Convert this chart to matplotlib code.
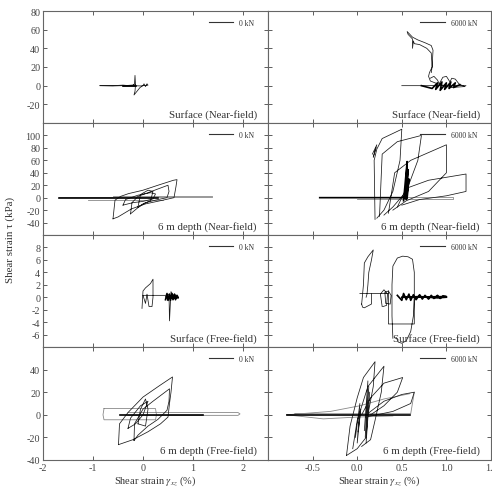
import numpy as np
import matplotlib
matplotlib.use("Agg")
import matplotlib.pyplot as plt

plt.rcParams['font.family'] = ['Liberation Serif', 'DejaVu Serif']
plt.rcParams['mathtext.fontset'] = 'stix'

nan = np.nan

# ---- row 1 : Surface (Near-field) ----
sn0_x = [-0.86, -0.6, -0.4, -0.15, -0.4, -0.15, -0.3, -0.2, -0.17, -0.16, -0.15, -0.16, -0.18, -0.12,
         -0.06, 0.0, 0.02, 0.05, 0.08, 0.1, 0.04, -0.05, -0.3, -0.6, -0.86]
sn0_y = [0, 0, 0.6, -0.6, -0.6, 0.6, 0.3, 0.5, 2, 11, 1, -6, -10, -6,
         -2, 0, 2, -1, 2, 0.5, 0.3, -0.3, 0.2, -0.3, 0]
sn0_bold_x = [-0.4, -0.15]
sn0_bold_y = [0, 0]

sn6_x = [0.50, 0.80, 1.0, 1.22, 1.2, 1.05, 0.9, 0.82, 0.80, 0.81, 0.84, 0.85, 0.83, 0.76, 0.68, 0.62,
         0.58, 0.56, 0.57, 0.60, 0.62, 0.62, 0.63, 0.64, 0.70, 0.78, 0.83, 0.84, 0.83, nan,
         0.82, 0.86, 0.90, 0.92, 0.96, 1.0, 1.04, 1.06, 1.10, 1.14, 1.18, 1.2]
sn6_y = [0, 0, 0.5, 0, -1, -2, 2, 5, 10, 14, 20, 38, 43, 46, 49, 52,
         56, 58, 55, 52, 50, 40, 48, 45, 44, 40, 35, 20, 14, nan,
         8, 10, 6, 2, 9, 10, 4, 8, 7, 2, 0, -1]
sn6_bold_x = [0.72, 0.84, 0.9, 0.88, 0.95, 0.93, 1.0, 0.98, 1.05, 1.03, 1.1, 1.08, 1.15]
sn6_bold_y = [0, -3, 3, -4, 4, -5, 3, -4, 4, -3, 3, -2, 1]

# ---- row 2 : 6 m depth (Near-field) ----
dn0_line_x = [-1.68, 1.38, 1.38, -0.6, nan, -1.1, 0.4]
dn0_line_y = [0.5, 0.5, 3, 3, nan, -3, -3]
dn0_bold_x = [-1.68, 0.3]
dn0_bold_y = [0, 0]
dn0_x = [-0.6, -0.56, -0.45, -0.29, 0.0, 0.3, 0.61, 0.68, 0.66, 0.62, 0.4, 0.05, -0.23, -0.5, -0.6, nan,
         -0.25, -0.22, -0.1, 0.1, 0.3, 0.5, 0.52, 0.48, 0.3, 0.05, -0.1, -0.25, nan,
         -0.4, -0.35, -0.1, 0.15, 0.25, 0.2, 0.0, -0.2, -0.4, nan,
         -0.1, -0.05, 0.1, 0.2, 0.15, 0.0, -0.1]
dn0_y = [-34, -4, 2, 6.5, 12, 20, 28, 29, 18, 0, -4, -10, -18, -31, -34, nan,
         -26, -8, 2, 8, 14, 20, 10, 0, -3, -8, -16, -26, nan,
         -12, -3, 4, 8, 6, -2, -6, -8, -12, nan,
         -15, 5, 12, 10, -5, -10, -15]

dn6_line_x = [-0.3, 1.07, 1.07, 0.0]
dn6_line_y = [1.5, 1.5, -2, -2]
dn6_bold_x = [-0.42, 0.55, nan, 0.52, 0.56, 0.54, 0.57, 0.55, 0.58, 0.56]
dn6_bold_y = [0, 0, nan, -5, 58, 0, 45, -3, 30, 0]
dn6_x = [0.20, 0.19, 0.22, 0.28, 0.50, 0.48, 0.40, 0.30, 0.22, nan,
         0.25, 0.28, 0.45, 0.72, 0.68, 0.55, 0.40, 0.30, nan,
         0.35, 0.42, 0.60, 1.00, 1.00, 0.80, 0.55, 0.40, nan,
         0.45, 0.55, 0.80, 1.22, 1.22, 1.0, 0.7, 0.5, nan,
         0.17, 0.22, 0.18, 0.21]
dn6_y = [-35, 60, 78, 95, 110, 60, 10, -20, -33, nan,
         -30, 70, 90, 100, 60, 10, -15, -28, nan,
         -25, 40, 60, 85, 40, 10, -5, -20, nan,
         -15, 15, 28, 38, 10, 3, -3, -12, nan,
         70, 85, 65, 80]

# ---- row 3 : Surface (Free-field) ----
sf0_x = [-0.02, 0.0, 0.05, 0.15, 0.2, 0.2, 0.18, 0.12, 0.08, 0.05, 0.0, 0.45, 0.52, 0.53, 0.55, 0.56,
         0.6, 0.65, 0.7, 0.6, 0.55, 0.5, 0.45]
sf0_y = [-1.8, 1.0, 1.5, 2.2, 2.9, 0.0, -1.5, -1.5, 0.5, -1.0, 0.3, 0.3, 0.5, -3.8, -0.5, 0.9,
         0.2, 0.4, 0.0, -0.3, 0.3, -0.5, 0.1]
sf0_bold_x = [0.45, 0.48, 0.5, 0.53, 0.55, 0.58, 0.6, 0.63, 0.65, 0.68, 0.7, 0.5, 0.6, 0.7]
sf0_bold_y = [-0.4, 0.6, -0.5, 0.5, -0.5, 0.6, -0.4, 0.5, -0.4, 0.3, 0.0, -0.2, 0.3, -0.1]

sf6_x = [0.05, 0.07, 0.08, 0.12, 0.18, 0.16, 0.13, 0.12, 0.11, 0.10, nan,
         0.05, 0.06, 0.08, 0.12, 0.16, 0.16, nan,
         0.03, 0.35, nan,
         0.35, 0.35, 0.64, 0.64, nan,
         0.40, 0.39, 0.39, 0.40, 0.45, 0.51, 0.57, 0.62, 0.64, 0.64, 0.63, 0.60, 0.55, 0.50, 0.46, 0.44, nan,
         0.28, 0.26, 0.3, 0.34, 0.33, 0.29, nan,
         0.32, 0.31, 0.35, 0.38, 0.37, 0.33]
sf6_y = [-1.1, 2, 5.5, 6.5, 7.6, 6, 4, 2, 0.5, 0, nan,
         -1.1, -1.6, -1.7, -1.4, -1.1, 0.5, nan,
         0.6, 0.6, nan,
         1.0, -4.3, -4.3, 0, nan,
         -6.6, -3, 2, 5, 6.3, 6.6, 6.5, 6.1, 4, 0, -3, -5.5, -7, -7.4, -7.2, -6.5, nan,
         -1.5, 0.5, 1.2, 0.5, -1.3, -1.5, nan,
         -1.0, 0.8, 1.0, 0.3, -1.1, -1.0]
sf6_bold_x = [0.45, 0.5, 0.52, 0.55, 0.58, 0.6, 0.63, 0.66, 0.7, 0.73, 0.76, 0.8, 0.83, 0.86, 0.9, 0.93,
              0.96, 1.0, 0.5, 0.7, 0.9, 1.0]
sf6_bold_y = [0.3, -0.5, 0.6, -0.4, 0.5, -0.5, 0.4, -0.4, 0.4, -0.3, 0.3, -0.3, 0.3, -0.2, 0.3, -0.2,
              0.2, 0.1, 0.0, 0.1, -0.1, 0.0]

# ---- row 4 : 6 m depth (Free-field) ----
df0_line_x = [-0.78, 0.25, 0.27, 0.25, -0.78, -0.8, -0.78, nan, -0.3, 1.9, 1.94, 1.9, -0.3]
df0_line_y = [5.5, 5.5, 0, -4.4, -4.4, 0, 5.5, nan, 2.0, 2.0, 0.8, -0.5, -0.5]
df0_bold_x = [-0.47, 1.2]
df0_bold_y = [0, 0]
df0_x = [-0.49, -0.47, -0.3, 0.0, 0.33, 0.59, 0.56, 0.53, 0.5, 0.35, 0.1, -0.2, -0.49, nan,
         -0.18, -0.17, 0.0, 0.2, 0.53, 0.52, 0.48, 0.3, 0.1, -0.1, -0.18, nan,
         -0.3, -0.25, -0.05, 0.1, 0.0, -0.15, -0.3, nan,
         -0.1, -0.05, 0.05, 0.1, 0.05, -0.1]
df0_y = [-26.4, -8, 2, 15.7, 25.8, 33.5, 20, 10, -2, -8, -15, -22, -26.4, nan,
         -22.8, -8, 5, 12, 23, 12, 4, -4, -10, -18, -22.8, nan,
         -12, -3, 8, 12, 0, -8, -12, nan,
         -8, 5, 14, 5, -10, -8]

df6_line_x = [-0.79, -0.3, 0.03, 0.3, 0.59, nan, -0.79, -0.38, 0.0, 0.4, nan, -0.7, 0.6, 0.64]
df6_line_y = [0, 3, 8, 14, 18.7, nan, 0, -3.6, -2, -1, nan, 1, 1, 20]
df6_bold_x = [-0.79, 0.59]
df6_bold_y = [0, 0]
df6_x = [-0.12, -0.08, 0.0, 0.07, 0.20, 0.18, 0.12, 0.10, 0.0, -0.12, nan,
         -0.05, 0.0, 0.12, 0.30, 0.27, 0.20, 0.15, 0.05, nan,
         0.05, 0.15, 0.30, 0.51, 0.45, 0.30, 0.15, nan,
         0.10, 0.30, 0.50, 0.64, 0.60, 0.40, 0.10, nan,
         0.08, 0.12, 0.09, 0.13, 0.10, 0.14, nan,
         -0.02, 0.03, 0.0, 0.04, 0.01]
df6_y = [-36, -10, 15, 33, 47, 25, 0, -20, -30, -36, nan,
         -30, -5, 25, 43, 20, -5, -22, -28, nan,
         0, 15, 28, 33, 20, 8, 0, nan,
         0, 12, 18, 20, 10, 3, -2, nan,
         -14, 30, -20, 25, -25, 20, nan,
         -20, 10, -25, 5, -15]

row_names = ['Surface (Near-field)', '6 m depth (Near-field)',
             'Surface (Free-field)', '6 m depth (Free-field)']
loads = ['0 kN', '6000 kN']
ylims = [(-40, 80), (-60, 120), (-8, 10), (-40, 60)]
yticks = [np.arange(-20, 81, 20), np.arange(-40, 101, 20),
          np.arange(-6, 9, 2), np.arange(-40, 41, 20)]

# (gray line, thin curves, bold part) for every panel
panels = [
    [([], [], sn0_x, sn0_y, sn0_bold_x, sn0_bold_y),
     ([], [], sn6_x, sn6_y, sn6_bold_x, sn6_bold_y)],
    [(dn0_line_x, dn0_line_y, dn0_x, dn0_y, dn0_bold_x, dn0_bold_y),
     (dn6_line_x, dn6_line_y, dn6_x, dn6_y, dn6_bold_x, dn6_bold_y)],
    [([], [], sf0_x, sf0_y, sf0_bold_x, sf0_bold_y),
     ([], [], sf6_x, sf6_y, sf6_bold_x, sf6_bold_y)],
    [(df0_line_x, df0_line_y, df0_x, df0_y, df0_bold_x, df0_bold_y),
     (df6_line_x, df6_line_y, df6_x, df6_y, df6_bold_x, df6_bold_y)],
]

W, H = 492, 489
fig = plt.figure(figsize=(W / 100, H / 100), dpi=100)

row_edges = [12, 124, 236, 348, 461]
col_edges = [(43, 268), (268, 491)]
spine_c = '#666666'
line_c = '#1a1a1a'

for r in range(4):
    for c in range(2):
        x0, x1 = col_edges[c]
        top, bot = row_edges[r], row_edges[r + 1]
        ax = fig.add_axes([x0 / W, 1 - bot / H, (x1 - x0) / W, (bot - top) / H])
        d = panels[r][c]
        if len(d[0]):
            ax.plot(d[0], d[1], color='#888888', lw=0.6)
        ax.plot(d[2], d[3], color=line_c, lw=0.55)
        ax.plot(d[4], d[5], color='#000000', lw=1.2)

        ax.set_ylim(*ylims[r])
        ax.set_yticks(yticks[r])
        if c == 0:
            ax.set_xlim(-2, 2.5)
            ax.set_xticks([-2, -1, 0, 1, 2])
            ax.set_xticklabels(['-2', '-1', '0', '1', '2'])
            ax.set_yticklabels([f'{v:g}' for v in yticks[r]])
        else:
            ax.set_xlim(-1, 1.5)
            ax.set_xticks([-1, -0.5, 0, 0.5, 1.0, 1.5])
            ax.set_xticklabels(['', '-0.5', '0.0', '0.5', '1.0', '1.5'])
            ax.set_yticklabels([])
        if r < 3:
            ax.tick_params(labelbottom=False)
        else:
            ax.set_xlabel(r'Shear strain $\gamma_{xz}$ (%)', fontsize=7.5, labelpad=1, color='#333333')

        ax.tick_params(direction='in', length=3, width=0.6, top=True, right=True,
                       labelsize=7.3, colors='#444444', pad=2)
        for s in ax.spines.values():
            s.set_color(spine_c)
            s.set_linewidth(0.8)

        h, = ax.plot([], [], color='#333333', lw=0.8)
        ax.legend([h], [loads[c]], loc='upper right', bbox_to_anchor=(0.97, 0.99),
                  fontsize=5.5, handlelength=3.2, handletextpad=0.8, frameon=False,
                  labelcolor='#333333')
        ax.text(0.95, 0.04, row_names[r], transform=ax.transAxes, ha='right', va='bottom',
                fontsize=7.8, color='#333333')

fig.text(0.02, 1 - 240 / H, 'Shear strain τ (kPa)', rotation=90, va='center', ha='center',
         fontsize=7.8, color='#333333')

fig.savefig('out.png', dpi=100)
